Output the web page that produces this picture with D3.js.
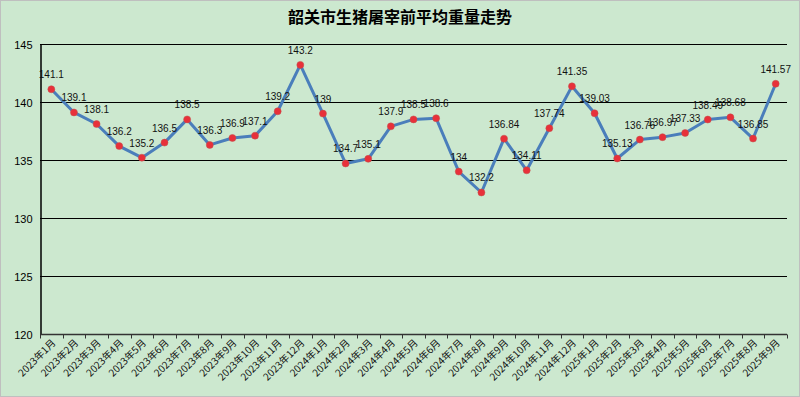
<!DOCTYPE html>
<html>
<head>
<meta charset="utf-8">
<script src="https://cdn.jsdelivr.net/npm/d3@7"></script>
<style>
  html, body { margin: 0; padding: 0; background: #fff; }
  svg { display: block; }
</style>
</head>
<body>
<script>
// 韶关市生猪屠宰前平均重量
const months = [
  "2023年1月", "2023年2月", "2023年3月", "2023年4月", "2023年5月", "2023年6月",
  "2023年7月", "2023年8月", "2023年9月", "2023年10月", "2023年11月", "2023年12月",
  "2024年1月", "2024年2月", "2024年3月", "2024年4月", "2024年5月", "2024年6月",
  "2024年7月", "2024年8月", "2024年9月", "2024年10月", "2024年11月", "2024年12月",
  "2025年1月", "2025年2月", "2025年3月", "2025年4月", "2025年5月", "2025年6月",
  "2025年7月", "2025年8月", "2025年9月"
];
const weights = [
  141.1, 139.1, 138.1, 136.2, 135.2, 136.5, 138.5, 136.3, 136.9, 137.1, 139.2, 143.2,
  139, 134.7, 135.1, 137.9, 138.5, 138.6, 134, 132.2, 136.84, 134.11, 137.74, 141.35,
  139.03, 135.13, 136.76, 136.97, 137.33, 138.49, 138.68, 136.85, 141.57
];
const yTicks = [120, 125, 130, 135, 140, 145];
const title = "韶关市生猪屠宰前平均重量走势";

const width = 800, height = 397;
const plotL = 40, plotR = 787, plotT = 44, plotB = 334;

const svg = d3.select("body").append("svg")
    .attr("width", width)
    .attr("height", height);

svg.append("rect")
    .attr("x", 0.5).attr("y", 0.5)
    .attr("width", width - 1).attr("height", height - 1)
    .attr("fill", "#CCE8CF")
    .attr("stroke", "#BFBFBF");

svg.append("text")
    .attr("x", 400).attr("y", 23)
    .attr("text-anchor", "middle")
    .style("font-family", "'Noto Sans CJK SC', sans-serif")
    .style("font-weight", "bold")
    .style("font-size", "16px")
    .text(title);

const x = d3.scaleBand().domain(months).range([plotL, plotR]).padding(0);
const y = d3.scaleLinear().domain([120, 145]).range([plotB, plotT]);

// gridlines
svg.append("g").selectAll("line")
    .data(yTicks.slice(1))
    .enter().append("line")
    .attr("x1", plotL).attr("x2", plotR)
    .attr("y1", d => Math.round(y(d)) + 0.5)
    .attr("y2", d => Math.round(y(d)) + 0.5)
    .attr("stroke", "#000")
    .attr("stroke-width", 1);

// y axis
const yAxis = svg.append("g")
    .attr("transform", "translate(" + (plotL + 0.5) + ",0.5)")
    .call(d3.axisLeft(y).tickValues(yTicks).tickSize(0).tickPadding(8));
yAxis.select(".domain").attr("stroke", "#000").attr("stroke-width", 1.5);
yAxis.selectAll("text")
    .style("font-family", "'Liberation Sans', Arial, sans-serif")
    .style("font-size", "11px")
    .attr("fill", "#000");

// x axis
const xAxis = svg.append("g")
    .attr("transform", "translate(0," + (plotB + 0.5) + ")");
xAxis.append("line")
    .attr("x1", plotL).attr("x2", plotR)
    .attr("stroke", "#333").attr("stroke-width", 1.5);
const bounds = months.map(m => x(m)).concat([plotR]);
xAxis.selectAll(".tick")
    .data(bounds)
    .enter().append("line")
    .attr("class", "tick")
    .attr("x1", d => Math.round(d) + 0.5).attr("x2", d => Math.round(d) + 0.5)
    .attr("y1", 0).attr("y2", 4)
    .attr("stroke", "#333");
xAxis.selectAll(".lbl")
    .data(months)
    .enter().append("text")
    .attr("class", "lbl")
    .attr("text-anchor", "end")
    .attr("transform", d => "translate(" + (x(d) + x.bandwidth() / 2 + 5) + ",9) rotate(-45)")
    .style("font-family", "'Noto Sans CJK SC', sans-serif")
    .style("font-size", "10px")
    .attr("fill", "#111")
    .text(d => d);

// series
const cx = d => x(d.m) + x.bandwidth() / 2;
const pts = months.map((m, i) => ({ m: m, v: weights[i] }));

svg.append("path")
    .datum(pts)
    .attr("fill", "none")
    .attr("stroke", "#4A7EBB")
    .attr("stroke-width", 3)
    .attr("stroke-linejoin", "round")
    .attr("d", d3.line().x(cx).y(d => y(d.v)));

svg.append("g").selectAll("circle")
    .data(pts)
    .enter().append("circle")
    .attr("cx", cx)
    .attr("cy", d => y(d.v))
    .attr("r", 3.5)
    .attr("fill", "#E8303A")
    .attr("stroke", "#C0504D")
    .attr("stroke-width", 0.5);

svg.append("g").selectAll("text")
    .data(pts)
    .enter().append("text")
    .attr("x", cx)
    .attr("y", d => y(d.v) - 11)
    .attr("text-anchor", "middle")
    .style("font-family", "'Liberation Sans', Arial, sans-serif")
    .style("font-size", "10px")
    .attr("fill", "#111")
    .text(d => d.v);
</script>
</body>
</html>
